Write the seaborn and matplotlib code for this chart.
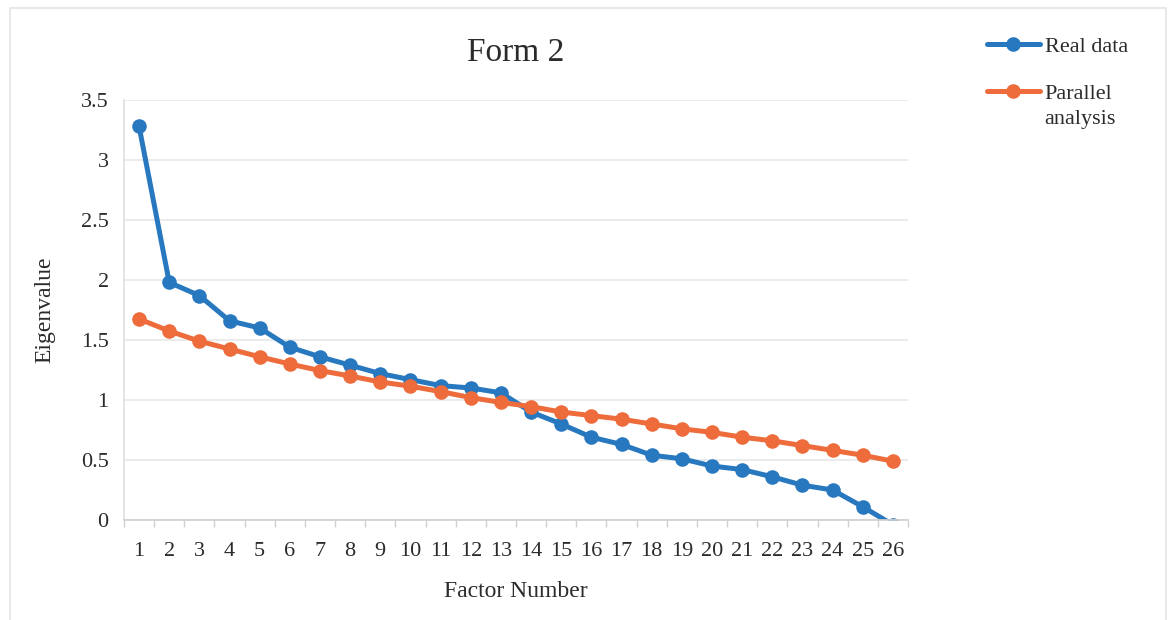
import numpy as np
import pandas as pd
import matplotlib
matplotlib.use("Agg")
import matplotlib.pyplot as plt
import seaborn as sns

factors = list(range(1, 27))
real_data = [3.28, 1.98, 1.87, 1.66, 1.60, 1.44, 1.36, 1.29, 1.22, 1.17,
             1.12, 1.10, 1.06, 0.90, 0.80, 0.69, 0.63, 0.54, 0.51, 0.45,
             0.42, 0.36, 0.29, 0.25, 0.11, -0.04]
parallel = [1.675, 1.575, 1.49, 1.425, 1.36, 1.30, 1.245, 1.20, 1.15, 1.115,
            1.07, 1.02, 0.98, 0.945, 0.90, 0.87, 0.84, 0.80, 0.76, 0.73,
            0.69, 0.66, 0.62, 0.58, 0.54, 0.49]
series_names = ["Real data", "Parallel analysis"]

df = pd.DataFrame({"Factor": factors * 2,
                   "Eigenvalue": real_data + parallel,
                   "Series": [series_names[0]] * 26 + [series_names[1]] * 26})

sns.set_theme(style="white")
plt.rcParams['font.family'] = ['Liberation Serif', 'DejaVu Serif']
text_color = "#2b2b2b"

fig = plt.figure(figsize=(11.72, 6.2), dpi=100)
ax = fig.add_axes([124 / 1172, 1 - 520 / 620, (908 - 124) / 1172, 420 / 620])

palette = {series_names[0]: "#2878c0", series_names[1]: "#ee6b3b"}
sns.lineplot(data=df, x="Factor", y="Eigenvalue", hue="Series", palette=palette,
             marker="o", markersize=10.5, markeredgewidth=0, linewidth=3.6, ax=ax)

ax.set_xlim(0.5, 26.5)
ax.set_ylim(0, 3.5)
ax.set_xticks(factors)
ax.set_xticklabels([str(f) for f in factors])
ax.set_xticks(np.arange(0.5, 27, 1), minor=True)
ax.set_yticks(np.arange(0, 3.51, 0.5))
ax.set_yticklabels(["0", "0.5", "1", "1.5", "2", "2.5", "3", "3.5"])
ax.tick_params(axis="x", which="major", length=0, labelsize=16, pad=16, colors=text_color)
ax.tick_params(axis="x", which="minor", length=5, width=1, color="#d0d0d0", bottom=True)
ax.tick_params(axis="y", length=0, labelsize=16, pad=11, colors=text_color)
ax.grid(axis="y", color="#e8e8e8", linewidth=1.2)
ax.grid(axis="x", visible=False)
for s in ["top", "right"]:
    ax.spines[s].set_visible(False)
ax.spines["left"].set_color("#e0e0e0")
ax.spines["bottom"].set_color("#d0d0d0")

ax.set_xlabel("Factor Number", fontsize=17, color=text_color, labelpad=14)
ax.set_ylabel("Eigenvalue", fontsize=17, color=text_color, labelpad=18)
ax.set_title("Form 2", fontsize=24, color=text_color, pad=28)

leg = ax.legend(loc="upper left", bbox_to_anchor=(1.075, 1.2), frameon=False,
                fontsize=16, handlelength=2.4, labelspacing=1.2, handletextpad=0.2)
texts = leg.get_texts()
for t in texts:
    t.set_color(text_color)
# second legend label wraps onto two lines, handle stays on the first line
texts[1].set_text("Parallel")
fig.canvas.draw()
bb = texts[1].get_window_extent().transformed(fig.transFigure.inverted())
fig.text(bb.x0, bb.y0 - 6 / 620, "analysis", ha="left", va="top",
         fontsize=16, color=text_color)

fig.patches.append(plt.Rectangle((10 / 1172, -0.01), 1156 / 1172, 1 - 8 / 620 + 0.01,
                                 transform=fig.transFigure, fill=False,
                                 edgecolor="#e4e4e4", linewidth=1.2))

fig.savefig("out.png", dpi=100)
